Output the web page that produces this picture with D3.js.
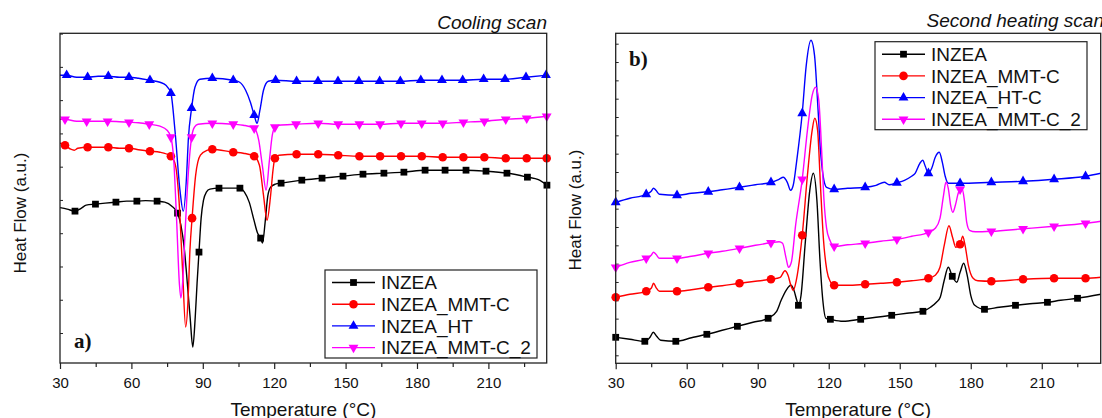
<!DOCTYPE html>
<html>
<head>
<meta charset="utf-8">
<script src="https://cdn.jsdelivr.net/npm/d3@7"></script>
<style>
    body { margin: 0; background: #fff; }
    svg { display: block; }
    text { font-family: "Liberation Sans", Arial, sans-serif; fill: #111; }
</style>
</head>
<body>
<div id="chart"></div>
<script>
// temperature (°C) / heat flow (a.u.)
var xTicks = [30, 60, 90, 120, 150, 180, 210];
var xMinorTicks = [45, 75, 105, 135, 165, 195, 225];
var namesCool = ["INZEA", "INZEA_MMT-C", "INZEA_HT", "INZEA_MMT-C_2"];
var namesHeat = ["INZEA", "INZEA_MMT-C", "INZEA_HT-C", "INZEA_MMT-C_2"];

// a) cooling scan
var coolInzea = [[30,155.5],[33,154],[36.3,152],[39,155],[41,158],[44.9,159],[49,160],[53.5,161],[58,162],[62.3,162],[66,162.5],[70.8,162],[74,161],[77,157],[79.4,150],[80.8,138],[82.2,115],[83.5,80],[84.7,45],[85.8,16],[86.8,45],[87.6,80],[88.4,111],[89.3,145],[90.3,163],[91.5,171],[93,174],[96.8,175],[101,175],[105.6,175],[107.5,171],[109.5,161],[111.5,143],[113,130],[114.3,125],[115.1,120],[116.2,141],[117.3,167],[118.5,176],[120.5,179],[122.9,180],[131.6,183],[140.1,185],[148.9,187],[157.3,189],[166.1,190],[174.5,191],[183.4,193],[191.8,193],[200.6,193],[209,192],[217.8,190],[226.4,186],[231,183.5],[234.6,178]];
var coolInzeaMarks = [36.3,44.9,53.5,62.3,70.8,79.4,88.4,96.8,105.6,114.3,122.9,131.6,140.1,148.9,157.3,166.1,174.5,183.4,191.8,200.6,209,217.8,226.4,234.6];

var coolMmtc = [[30,220],[32.1,218],[34.5,214],[36,213],[37.5,215],[41.6,216],[46,216],[50.3,216],[55,215],[59,215],[63,213.5],[67.8,212],[72,211],[76.6,207],[78.5,198],[80,163],[81.5,93],[82.8,36],[83.8,63],[84.6,113],[85.5,145],[87,188],[89,208],[92,213],[94,214],[102.8,211],[107,210],[111.6,207],[113.8,198],[115.5,168],[117,143],[118.5,168],[119.5,193],[120.3,205],[122,208],[129.4,209],[138.5,209],[146.9,208],[155.8,207],[164.5,207],[173.3,207],[182,207],[190.8,206],[199.5,206],[208.3,206],[217.3,205],[226.1,205],[234.5,205]];
var coolMmtcMarks = [32.1,41.6,50.3,59,67.8,76.6,85.5,94,102.8,111.6,120.3,129.4,138.5,146.9,155.8,164.5,173.3,182,190.8,199.5,208.3,217.3,226.1,234.5];

var coolHt = [[30,288],[32.8,288],[37,286],[41.6,286],[46,287],[50.3,287],[55,286],[59,286],[63,285],[67.8,283],[72,281],[74.5,278],[76.6,270],[78.3,233],[80.4,173],[81.8,152],[83.2,188],[83.9,223],[85.3,255],[86.7,276],[88.8,284],[94,285],[102.8,283],[105.5,281],[108,273],[110,261],[111.6,248],[112.8,240],[114,253],[115.5,273],[117.5,282],[120.6,283],[129.4,282],[138.4,282],[146.8,282],[155.6,282],[164.3,282],[173,282],[181.6,283],[190.5,283],[199.2,283],[208,284],[217,284],[225.8,286],[234.2,288]];
var coolHtMarks = [32.8,41.6,50.3,59,67.8,76.6,85.3,94,102.8,111.6,120.6,129.4,138.4,146.8,155.6,164.3,173,181.6,190.5,199.2,208,217,225.8,234.2];

var coolMmtc2 = [[30,244],[32.1,244],[37,242],[41.2,242],[46,242],[50,242],[55,241.5],[59,241],[63,240.5],[67.5,239],[72,237],[75,233],[76.6,226],[77.8,203],[79,143],[80.2,78],[80.8,65],[81.6,83],[82.6,133],[84,193],[85.3,226],[86.5,236],[88,239],[94,240],[102.8,239],[107,238],[111.6,235],[113.5,223],[115,198],[116.6,173],[118,203],[119.2,228],[120.3,236],[122,238],[129.2,239],[138.5,240],[146.9,239],[155.8,239],[164.5,239],[173.3,240],[182,240],[190.8,240],[199.5,241],[208.3,242],[217.3,244],[226.1,245],[234.5,247]];
var coolMmtc2Marks = [32.1,41.2,50,59,67.5,76.6,85.3,94,102.8,111.6,120.3,129.2,138.5,146.9,155.8,164.5,173.3,182,190.8,199.5,208.3,217.3,226.1,234.5];

// b) second heating scan
var heatInzea = [[30,26],[36,24],[42.3,22],[44.5,26],[45.9,31],[47.3,27],[49,23],[55.4,22],[62,25.5],[68.5,29],[75,33],[81.4,37],[88,41],[94.4,45],[98,52],[99.9,63],[102,73],[104,78],[105.3,73],[106.5,63],[107.2,58],[108.3,68],[110,118],[112,173],[113.5,190],[115,163],[116.3,103],[117.5,63],[118.8,45],[120.7,44],[126,42],[133.5,44],[140,46],[146.6,48],[153,50],[159.8,52],[163,56],[165.5,61],[167.1,66],[168.8,83],[170.5,96],[172.2,87],[174.1,81],[175.5,91],[177,100],[178.5,88],[180,68],[181.7,58],[185.8,54],[192,56],[198.9,58],[205,59.5],[212.4,61],[218,63],[225.1,65],[235,69]];
var heatInzeaMarks = [30,42.3,55.4,68.5,81.4,94.4,107.2,120.7,133.5,146.6,159.8,172.2,185.8,198.9,212.4,225.1];

var heatMmtc = [[30,66],[36,69],[42.9,72],[45,75],[46,80],[47,76],[48.5,72],[55.9,72],[62,73.5],[69.1,76],[75,77.5],[82.3,80],[89,82],[95.6,84],[99.5,86],[101.5,92.5],[102.8,88],[104,78],[105,73],[106.3,83],[108.8,128],[111,188],[113,233],[114.1,245],[115.3,233],[116.5,178],[117.8,123],[119.2,93],[120.6,82],[122.3,78],[128,78],[135.4,79],[142,80],[148.8,81],[155,82.5],[162.1,85],[165,88],[167,96],[168.8,118],[170.8,137.5],[172.3,126],[173.7,116],[175.5,119],[176.6,127],[177.6,118],[179,98],[181,85],[183,82.5],[188.7,82],[202.1,84],[215.2,85],[228.5,85],[235,86]];

var heatHtc = [[30,161],[36,165],[42.9,169],[45,172],[46,175],[47,173],[48.5,169],[55.9,168],[62,170],[69.1,171.5],[75,173.5],[82.3,176],[89,178.5],[95.6,181],[99,184],[100.8,186],[102.5,181],[103.9,173],[105,178],[106.5,203],[108.8,250],[110.5,298],[112.5,323],[114,308],[115.5,253],[116.5,213],[117.6,188],[119.1,176],[122.3,174],[128,175],[135.4,176],[140,178],[143.5,181],[145.5,178.5],[148.8,180.5],[152,183],[155,187],[156.5,190],[158.5,200],[159.7,203],[160.8,197],[162.1,190],[163.5,195],[165,206],[166.7,211],[168,201],[169.2,187],[170.5,180],[175.5,180],[188.7,181],[202.1,182],[215.2,184],[228.5,187],[235,190]];

var heatMmtc2 = [[30,96],[36,101],[42.9,105],[45,108],[46,111],[47,109],[48.5,105],[55.9,105],[62,107],[69.1,110],[75,112],[82.3,115],[89,118],[95.6,120.5],[99,121.5],[100.5,120],[102,105],[103,96],[104.2,101],[106,138],[108.8,184],[111,233],[113,268],[114.5,276],[115.8,263],[117,213],[118,163],[119.1,135],[120.5,123],[122.3,117],[128,118.5],[135.4,120],[142,122],[148.8,124],[155,127],[162.1,131],[165,135],[167,145],[168.5,168],[169.5,181],[170.5,175],[171.5,158],[172.4,151],[173.5,158],[174.7,170],[175.5,174],[176.3,175],[177.3,163],[178.3,141],[179.5,133],[182,131.5],[188.7,132],[202.1,134.5],[215.2,137],[228.5,140],[235,142]];
var heatMarks = [30,42.9,55.9,69.1,82.3,95.6,108.8,122.3,135.4,148.8,162.1,175.5,188.7,202.1,215.2,228.5];

var colors = ["#000000", "#ff0000", "#0000ff", "#ff00ff"];
var symbols = [
    { type: d3.symbolSquare, size: 46, rot: 0 },
    { type: d3.symbolCircle, size: 58, rot: 0 },
    { type: d3.symbolTriangle, size: 42, rot: 0 },
    { type: d3.symbolTriangle, size: 42, rot: 180 }
];

var svg = d3.select("#chart").append("svg")
    .attr("width", 1102)
    .attr("height", 418);

function drawPanel(p) {
    var x = d3.scaleLinear().domain([30, p.xMax]).range([p.left, p.right]);
    var y = d3.scaleLinear().domain([0, 330]).range([p.bottom, p.top]);
    var g = svg.append("g");

    g.append("clipPath").attr("id", "clip" + p.id)
        .append("rect")
        .attr("x", p.left).attr("y", p.top)
        .attr("width", p.right - p.left).attr("height", p.bottom - p.top);

    // x axis, major + minor ticks pointing out
    var gx = g.append("g")
        .attr("transform", "translate(0," + p.bottom + ")")
        .call(d3.axisBottom(x).tickValues(xTicks).tickSize(6).tickPadding(8).tickFormat(d3.format("d")));
    gx.append("g")
        .call(d3.axisBottom(x).tickValues(xMinorTicks).tickSize(4).tickFormat(""));
    gx.selectAll(".domain").remove();
    gx.selectAll("line").attr("stroke", "#222").attr("stroke-width", 1.2);
    gx.selectAll("text").attr("font-size", 15).attr("fill", "#111")
        .style("font-family", "'Liberation Sans', Arial, sans-serif");

    // y axis ticks pointing in, no labels (a.u.)
    var gy = g.append("g")
        .attr("transform", "translate(" + p.left + ",0)")
        .call(d3.axisLeft(y).tickValues(p.yTicks).tickSize(-3).tickFormat(""));
    gy.select(".domain").remove();
    gy.selectAll("line").attr("stroke", "#222");

    var line = d3.line()
        .x(function (d) { return x(d[0]); })
        .y(function (d) { return y(d[1]); })
        .curve(d3.curveMonotoneX);

    p.series.forEach(function (s, i) {
        g.append("path")
            .datum(s.data)
            .attr("clip-path", "url(#clip" + p.id + ")")
            .attr("fill", "none")
            .attr("stroke", colors[i])
            .attr("stroke-width", 1.4)
            .attr("d", line);

        var pts = s.data.filter(function (d) {
            return s.marks.some(function (m) { return Math.abs(m - d[0]) < 1e-6; });
        });
        g.selectAll(".m" + p.id + i)
            .data(pts)
            .enter().append("path")
            .attr("class", "m" + p.id + i)
            .attr("fill", colors[i])
            .attr("d", d3.symbol().type(symbols[i].type).size(symbols[i].size))
            .attr("transform", function (d) {
                return "translate(" + x(d[0]) + "," + y(d[1]) + ") rotate(" + symbols[i].rot + ")";
            });
    });

    // frame
    g.append("rect")
        .attr("x", p.left).attr("y", p.top)
        .attr("width", p.right - p.left).attr("height", p.bottom - p.top)
        .attr("fill", "none")
        .attr("stroke", "#222")
        .attr("stroke-width", 1.3);

    // legend
    var lg = g.append("g").attr("transform", "translate(" + p.legend.x + "," + p.legend.y + ")");
    lg.append("rect")
        .attr("width", 212).attr("height", 88)
        .attr("fill", "#fff").attr("stroke", "#222").attr("stroke-width", 1.2);
    p.names.forEach(function (name, i) {
        var ry = 12.5 + i * 21.7;
        lg.append("line")
            .attr("x1", 7).attr("x2", 50).attr("y1", ry).attr("y2", ry)
            .attr("stroke", colors[i]).attr("stroke-width", 1.4);
        lg.append("path")
            .attr("fill", colors[i])
            .attr("d", d3.symbol().type(symbols[i].type).size(symbols[i].size))
            .attr("transform", "translate(28.5," + ry + ") rotate(" + symbols[i].rot + ")");
        lg.append("text")
            .attr("x", 56).attr("y", ry).attr("dy", "0.36em")
            .attr("font-size", 19)
            .text(name);
    });

    // titles
    g.append("text")
        .attr("x", p.titleX).attr("y", p.titleY)
        .attr("text-anchor", "end")
        .attr("font-size", 19)
        .attr("font-style", "italic")
        .text(p.title);

    g.append("text")
        .attr("x", (p.left + p.right) / 2).attr("y", 416)
        .attr("text-anchor", "middle")
        .attr("font-size", 19)
        .text("Temperature (°C)");

    g.append("text")
        .attr("transform", "translate(" + p.yTitleX + "," + p.yTitleY + ") rotate(-90)")
        .attr("text-anchor", "middle")
        .attr("font-size", 17)
        .text("Heat Flow (a.u.)");

    g.append("text")
        .attr("x", p.tag.x).attr("y", p.tag.y)
        .attr("font-size", 21)
        .attr("font-weight", "bold")
        .style("font-family", "'Liberation Serif', 'Times New Roman', serif")
        .text(p.tag.text);
}

drawPanel({
    id: "a", left: 60, right: 546.7, top: 33.3, bottom: 363, xMax: 234.5,
    yTicks: d3.range(30, 330, 33.3),
    series: [
        { data: coolInzea, marks: coolInzeaMarks },
        { data: coolMmtc, marks: coolMmtcMarks },
        { data: coolHt, marks: coolHtMarks },
        { data: coolMmtc2, marks: coolMmtc2Marks }
    ],
    names: namesCool,
    legend: { x: 325, y: 270 },
    title: "Cooling scan", titleX: 547, titleY: 29,
    yTitleX: 25.7, yTitleY: 213,
    tag: { x: 74, y: 348, text: "a)" }
});

drawPanel({
    id: "b", left: 615.7, right: 1100.7, top: 33.3, bottom: 363.3, xMax: 234.9,
    yTicks: d3.range(8, 330, 18.33),
    series: [
        { data: heatInzea, marks: heatInzeaMarks },
        { data: heatMmtc, marks: heatMarks },
        { data: heatHtc, marks: heatMarks },
        { data: heatMmtc2, marks: heatMarks }
    ],
    names: namesHeat,
    legend: { x: 875, y: 41.7 },
    title: "Second heating scan", titleX: 1104, titleY: 27,
    yTitleX: 580.5, yTitleY: 210,
    tag: { x: 629, y: 66, text: "b)" }
});
</script>
</body>
</html>
